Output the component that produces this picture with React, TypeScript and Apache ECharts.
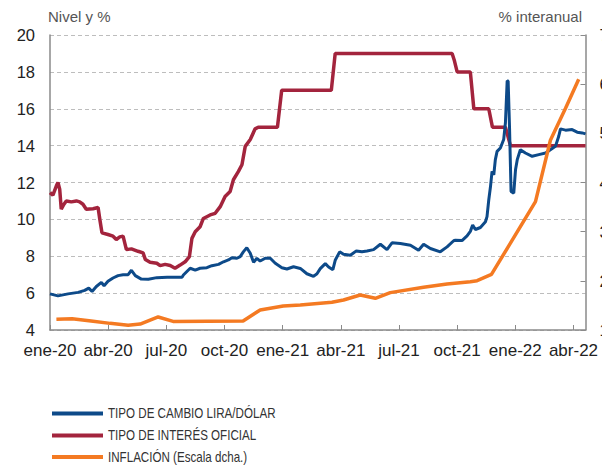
import React, { useEffect, useRef } from "react";
import * as echarts from "echarts";

// x = months since 1 Jan 2020
const xTickLabels = ["ene-20", "abr-20", "jul-20", "oct-20", "ene-21", "abr-21", "jul-21", "oct-21", "ene-22", "abr-22"];
const rightTicks = [10, 20, 30, 40, 50, 60, 70];

const seriesNames = ["TIPO DE CAMBIO LIRA/DÓLAR", "TIPO DE INTERÉS OFICIAL", "INFLACIÓN (Escala dcha.)"];

const liraDollar: [number, number][] = [
  [0, 5.96], [0.41, 5.85], [0.93, 5.96], [1.45, 6.04], [1.79, 6.15], [2.0, 6.27], [2.17, 6.09],
  [2.39, 6.36], [2.65, 6.58], [2.79, 6.4], [2.99, 6.64], [3.25, 6.82], [3.51, 6.95], [3.77, 7.0],
  [4.03, 7.0], [4.2, 7.24], [4.4, 6.95], [4.71, 6.76], [5.07, 6.75], [5.51, 6.84], [6.04, 6.86],
  [6.81, 6.86], [6.88, 6.98], [7.23, 7.35], [7.49, 7.25], [7.74, 7.35], [8.09, 7.38], [8.35, 7.49],
  [8.69, 7.56], [8.95, 7.7], [9.2, 7.8], [9.38, 7.92], [9.64, 7.89], [9.81, 7.98], [9.98, 8.25],
  [10.15, 8.46], [10.33, 8.16], [10.5, 7.67], [10.67, 7.89], [10.84, 7.74], [11.1, 7.89],
  [11.36, 7.89], [11.62, 7.62], [11.96, 7.38], [12.22, 7.31], [12.56, 7.43], [12.91, 7.34],
  [13.25, 7.05], [13.59, 6.91], [13.77, 7.05], [13.94, 7.33], [14.2, 7.6], [14.37, 7.42],
  [14.59, 7.27], [14.71, 7.78], [14.94, 8.24], [15.14, 8.11], [15.49, 8.05], [15.8, 8.29],
  [16.09, 8.24], [16.35, 8.29], [16.69, 8.36], [17.04, 8.65], [17.38, 8.36], [17.64, 8.73],
  [18.07, 8.69], [18.59, 8.6], [19.01, 8.33], [19.27, 8.65], [19.62, 8.42], [20.13, 8.24],
  [20.48, 8.51], [20.82, 8.84], [20.91, 8.87], [21.25, 8.85], [21.51, 9.1], [21.68, 9.35],
  [21.8, 9.69], [21.94, 9.45], [22.2, 9.56], [22.46, 9.87], [22.54, 10.15], [22.63, 11.05],
  [22.72, 11.78], [22.8, 12.6], [22.89, 12.42], [22.97, 13.24], [23.06, 13.69], [23.23, 13.87],
  [23.4, 14.33], [23.49, 15.24], [23.58, 17.51], [23.63, 17.5], [23.7, 15.05], [23.78, 11.51],
  [23.92, 11.42], [24.01, 12.69], [24.1, 13.24], [24.26, 13.78], [24.52, 13.6], [24.87, 13.42],
  [25.21, 13.51], [25.56, 13.6], [25.81, 13.78], [26.07, 13.96], [26.24, 14.51], [26.33, 14.91],
  [26.59, 14.84], [26.93, 14.87], [27.19, 14.73], [27.45, 14.69], [27.62, 14.64],
];

const policyRate: [number, number][] = [
  [0, 11.45], [0.15, 11.31], [0.33, 11.82], [0.41, 12.0], [0.5, 11.64], [0.58, 10.55], [0.72, 10.82],
  [0.84, 11.0], [1.1, 10.95], [1.36, 11.0], [1.53, 10.95], [1.7, 10.82], [1.87, 10.55], [2.22, 10.58],
  [2.48, 10.64], [2.57, 10.0], [2.68, 9.27], [2.99, 9.18], [3.25, 9.09], [3.42, 8.91], [3.6, 9.05],
  [3.77, 9.09], [3.94, 8.36], [4.2, 8.4], [4.54, 8.27], [4.8, 8.18], [4.92, 7.82], [5.16, 7.67],
  [5.51, 7.62], [5.68, 7.49], [5.94, 7.56], [6.2, 7.5], [6.45, 7.35], [6.71, 7.52], [6.97, 7.7],
  [7.19, 7.98], [7.32, 8.97], [7.49, 9.33], [7.74, 9.6], [7.91, 10.05], [8.26, 10.24], [8.52, 10.33],
  [8.78, 10.69], [9.03, 11.24], [9.29, 11.51], [9.46, 12.15], [9.72, 12.6], [9.9, 12.96],
  [10.07, 13.96], [10.33, 14.33], [10.58, 14.91], [10.74, 15.0], [11.73, 15.0], [11.95, 17.0],
  [14.51, 17.0], [14.71, 19.0], [20.74, 19.0], [20.86, 18.6], [21.0, 18.0], [21.68, 18.0],
  [21.86, 16.0], [22.63, 16.0], [22.82, 15.0], [23.49, 15.0], [23.75, 14.0], [27.62, 14.0],
];

const inflation: [number, number][] = [
  [0.33, 12.2], [1.14, 12.3], [2.12, 11.85], [3.1, 11.35], [4.03, 10.95], [4.65, 11.2],
  [5.58, 12.65], [6.35, 11.75], [9.96, 11.85], [10.84, 14.07], [12.03, 14.9], [12.91, 15.1],
  [14.54, 15.63], [15.14, 16.1], [16.0, 17.12], [16.78, 16.45], [17.55, 17.6], [19.27, 18.68],
  [20.48, 19.36], [21.68, 19.83], [22.03, 20.03], [22.77, 21.3], [25.04, 36.1], [25.81, 48.6],
  [26.59, 55.1], [27.27, 61.0],
];

const colors = ["#0d4a89", "#a3243d", "#f47a22"];

export default function App() {
  const ref = useRef<HTMLDivElement>(null);
  useEffect(() => {
    if (!ref.current) return;
    const chart = echarts.init(ref.current, undefined, { renderer: "svg" });
    const font = "'Liberation Sans', Arial, Helvetica, sans-serif";
    const legendY = [413.5, 435.5, 457];
    const legendGraphics: any[] = [];
    seriesNames.forEach((name, i) => {
      legendGraphics.push({
        type: "rect",
        shape: { x: 52, y: legendY[i] - 2, width: 51, height: 4 },
        style: { fill: colors[i] },
        silent: true,
      });
      legendGraphics.push({
        type: "text",
        x: 108,
        y: legendY[i],
        scaleX: 0.8,
        style: {
          text: name,
          fontSize: 14.5,
          fontFamily: font,
          fill: "#333",
          verticalAlign: "middle",
          align: "left",
        },
        silent: true,
      });
    });
    chart.setOption({
      animation: false,
      textStyle: { fontFamily: font },
      title: [
        {
          text: "Nivel y %", left: 48, top: 9, padding: 0,
          textStyle: { fontSize: 15, fontWeight: "normal", color: "#555", fontFamily: font },
        },
        {
          text: "% interanual", right: 20, top: 9, padding: 0,
          textStyle: { fontSize: 15, fontWeight: "normal", color: "#555", fontFamily: font },
        },
      ],
      graphic: legendGraphics,
      grid: { left: 50, right: 16.5, top: 35, bottom: 135, containLabel: false, outerBoundsMode: "none" },
      xAxis: {
        type: "value",
        min: 0,
        max: 27.62,
        interval: 3,
        axisLine: { show: true, lineStyle: { color: "#8a8a8a", width: 1.5 } },
        axisTick: { show: true, inside: true, length: 5, lineStyle: { color: "#8a8a8a", width: 1 } },
        splitLine: { show: false },
        axisLabel: {
          margin: 12,
          fontSize: 17,
          color: "#222",
          showMaxLabel: false,
          formatter: (v: number) => xTickLabels[Math.round(v / 3)] ?? "",
        },
      },
      yAxis: [
        {
          type: "value",
          min: 4,
          max: 20,
          interval: 2,
          position: "left",
          axisLine: { show: true, lineStyle: { color: "#8a8a8a", width: 1.5 } },
          axisTick: { show: false },
          splitLine: { show: true, lineStyle: { color: "#bdbdbd", type: [4, 3], width: 1 } },
          axisLabel: { margin: 15, fontSize: 16.5, color: "#222" },
        },
        {
          type: "value",
          min: rightTicks[0],
          max: rightTicks[rightTicks.length - 1],
          interval: 10,
          position: "right",
          axisLine: { show: true, lineStyle: { color: "#8a8a8a", width: 1.5 } },
          axisTick: { show: true, inside: true, length: 5, lineStyle: { color: "#8a8a8a", width: 1 } },
          splitLine: { show: false },
          axisLabel: { margin: 14, fontSize: 16.5, color: "#222" },
        },
      ],
      series: [
        {
          name: seriesNames[0], type: "line", data: liraDollar, yAxisIndex: 0, z: 3,
          symbol: "none", lineStyle: { color: colors[0], width: 3 }, itemStyle: { color: colors[0] },
        },
        {
          name: seriesNames[1], type: "line", data: policyRate, yAxisIndex: 0, z: 2,
          symbol: "none", lineStyle: { color: colors[1], width: 3.5 }, itemStyle: { color: colors[1] },
        },
        {
          name: seriesNames[2], type: "line", data: inflation, yAxisIndex: 1, z: 4,
          symbol: "none", lineStyle: { color: colors[2], width: 3.5 }, itemStyle: { color: colors[2] },
        },
      ],
    });
    return () => chart.dispose();
  }, []);
  return (
    <div style={{ position: "absolute", left: 0, top: 0, width: 602, height: 465, overflow: "hidden", background: "#fff" }}>
      <div ref={ref} style={{ width: 602, height: 465 }} />
    </div>
  );
}
